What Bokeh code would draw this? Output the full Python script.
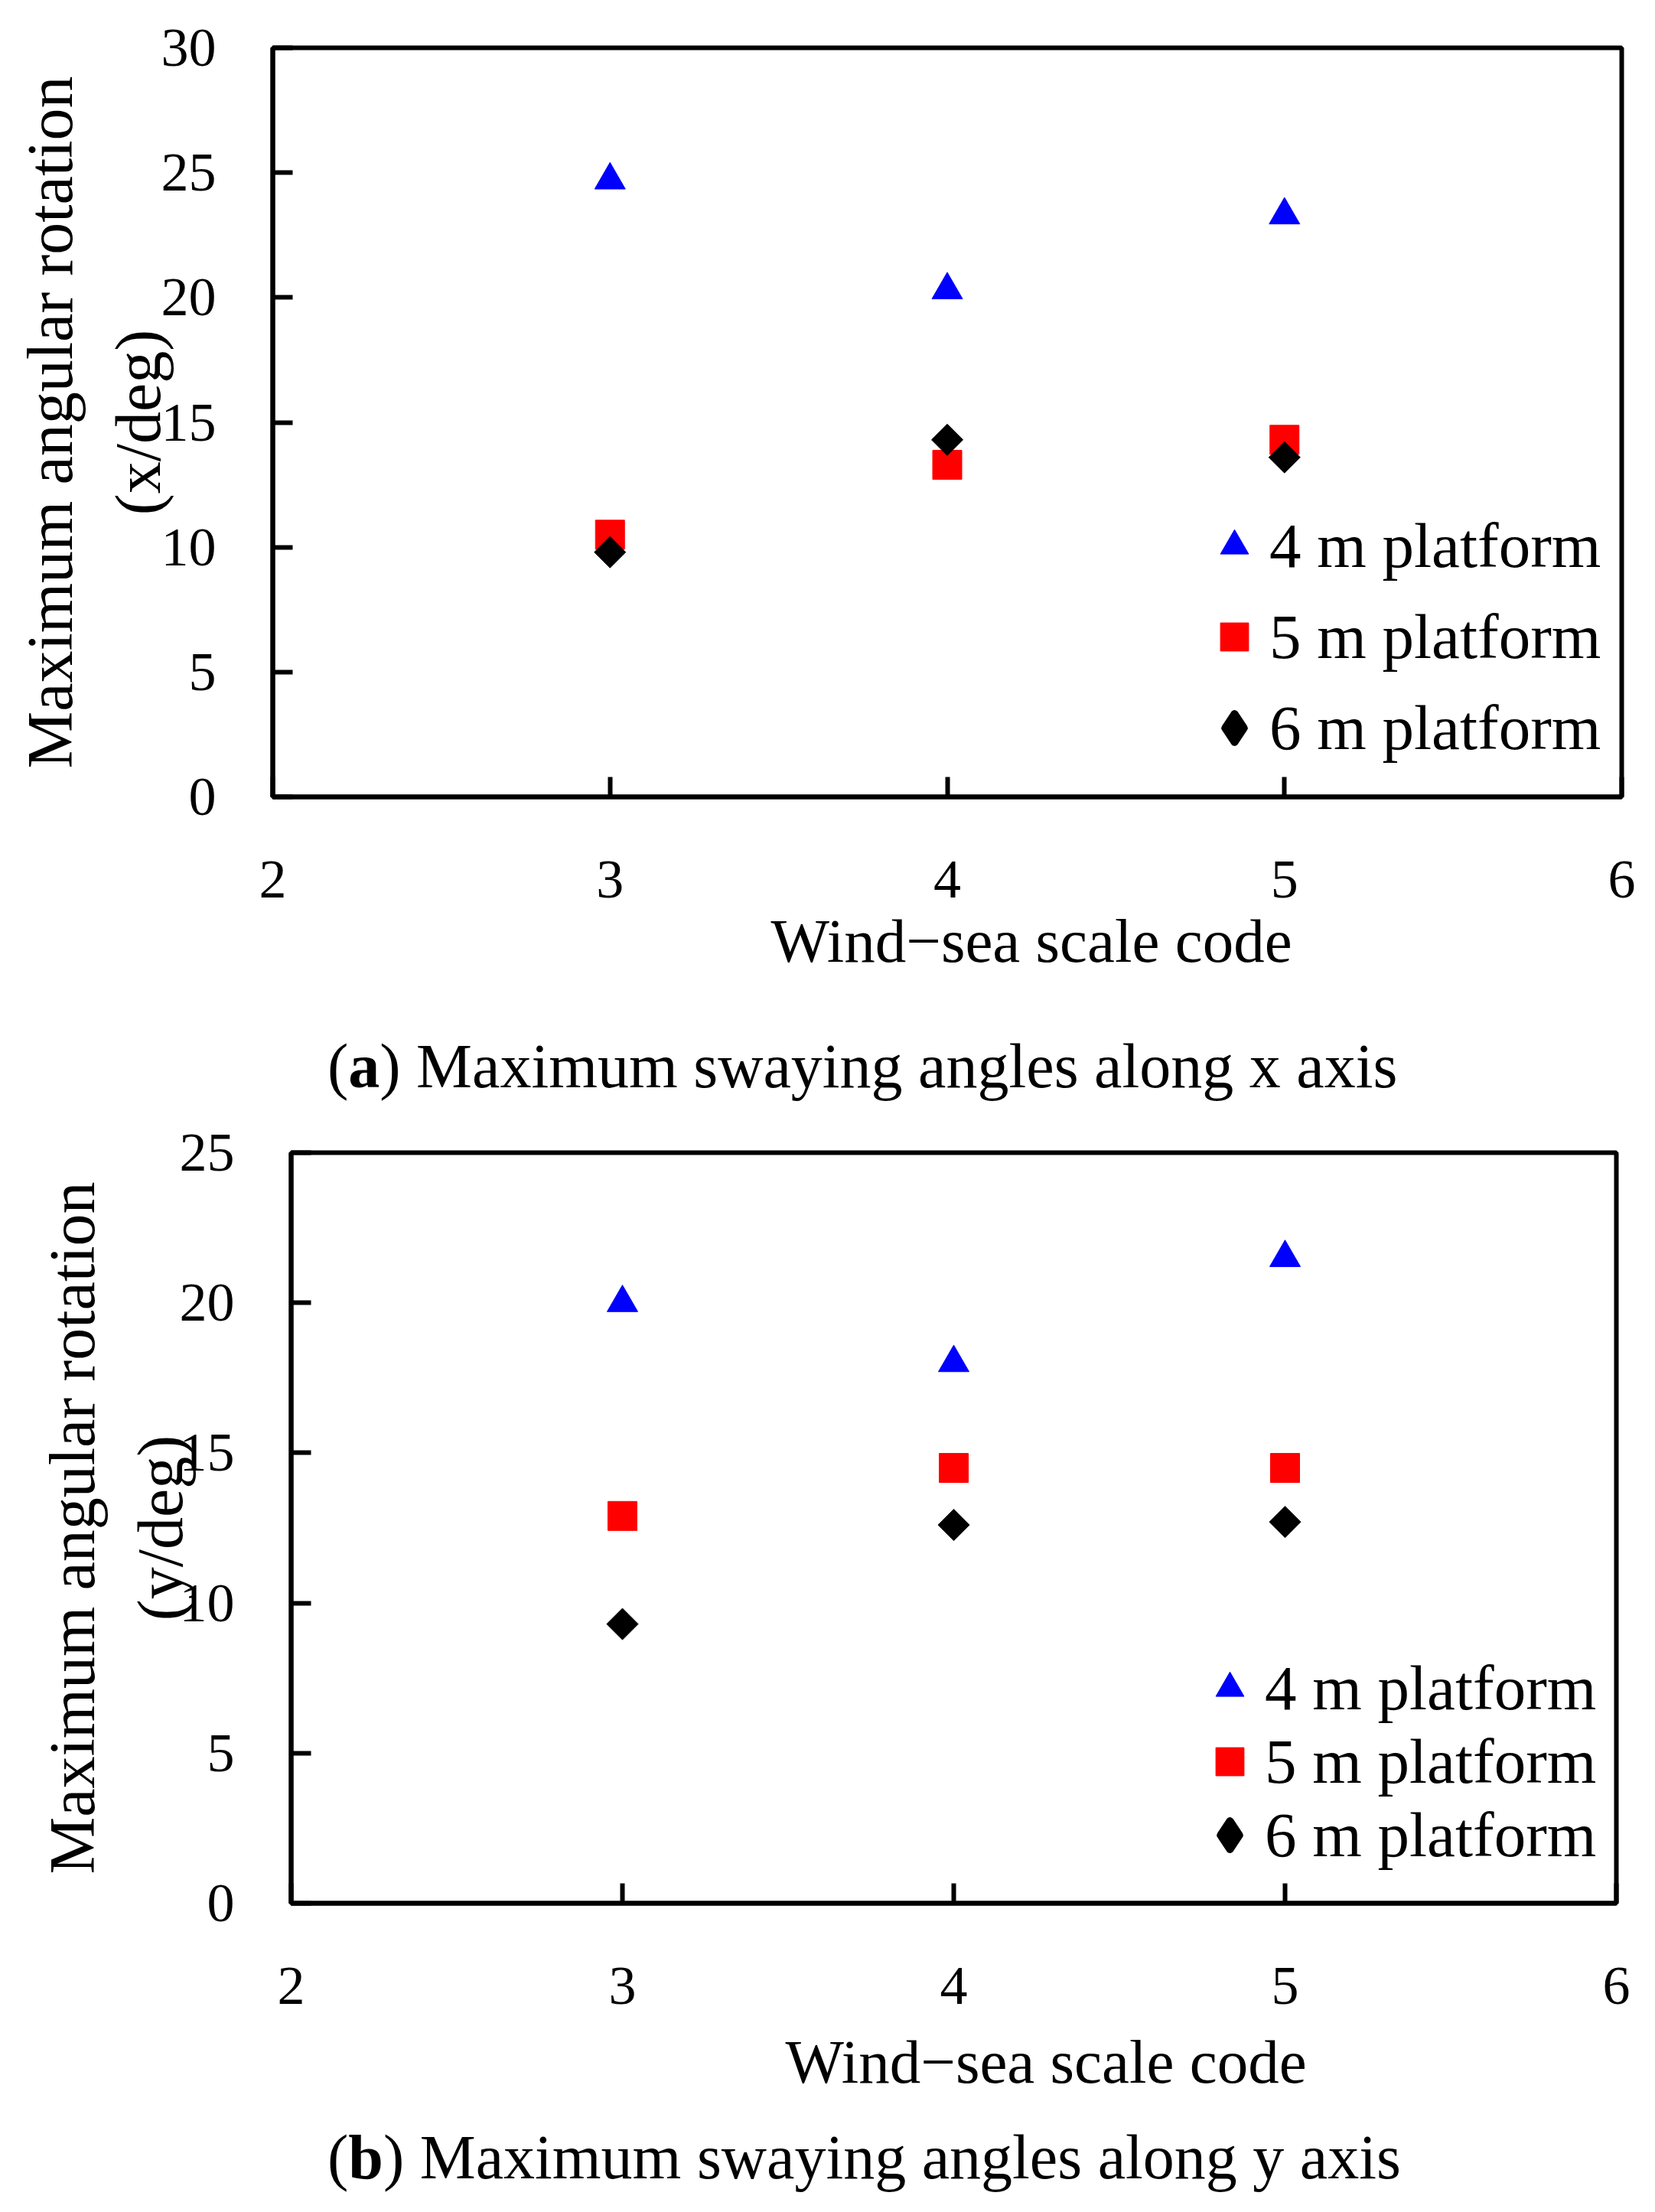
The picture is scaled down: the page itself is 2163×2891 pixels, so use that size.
from bokeh.embed import file_html
from bokeh.resources import INLINE
from bokeh.plotting import figure
from bokeh.layouts import column
from bokeh.models import Range1d, FixedTicker, Legend, LegendItem, Title, Div

# wind-sea scale code on the x axis
codes = [3, 4, 5]

# (a) maximum swaying angle along x axis, deg
x_angle_4m = [24.7, 20.3, 23.3]
x_angle_5m = [10.5, 13.3, 14.3]
x_angle_6m = [9.8, 14.3, 13.6]

# (b) maximum swaying angle along y axis, deg
y_angle_4m = [20.0, 18.0, 21.5]
y_angle_5m = [12.9, 14.5, 14.5]
y_angle_6m = [9.3, 12.6, 12.7]

x_ticks = [2, 3, 4, 5, 6]
y_ticks_a = [0, 5, 10, 15, 20, 25, 30]
y_ticks_b = [0, 5, 10, 15, 20, 25]

names = ["4 m platform", "5 m platform", "6 m platform"]

FONT = "Liberation Serif"


def panel(v4, v5, v6, yticks, unit, width, height, border, margin_left,
          legend_loc, glyph_h, spacing, ylab_standoff, xlab_offset, xlab_standoff):
    left, right, top, bottom = border
    p = figure(width=width, height=height, output_backend="svg", toolbar_location=None,
               title=None, x_range=Range1d(2, 6), y_range=Range1d(0, yticks[-1]),
               min_border_left=left, min_border_right=right,
               min_border_top=top, min_border_bottom=bottom,
               margin=(0, 0, 0, margin_left))
    p.xgrid.visible = False
    p.ygrid.visible = False
    p.outline_line_color = "black"
    p.outline_line_width = 6

    p.xaxis.ticker = FixedTicker(ticks=x_ticks)
    p.yaxis.ticker = FixedTicker(ticks=yticks)
    for ax in (p.xaxis, p.yaxis):
        ax.axis_line_width = 6
        ax.major_tick_line_width = 6
        ax.major_tick_in = 26
        ax.major_tick_out = 0
        ax.minor_tick_line_color = None
        ax.major_label_text_font = FONT
        ax.major_label_text_font_size = "72px"
        ax.major_label_text_color = "black"
    p.xaxis.major_label_standoff = 84
    p.yaxis.major_label_standoff = 74

    p.yaxis.axis_label = "Maximum angular rotation\n(" + unit + "/deg)"
    p.yaxis.axis_label_text_font = FONT
    p.yaxis.axis_label_text_font_size = "84px"
    p.yaxis.axis_label_text_font_style = "normal"
    p.yaxis.axis_label_text_color = "black"
    p.yaxis.axis_label_text_line_height = 1.23
    p.yaxis.axis_label_standoff = ylab_standoff

    p.add_layout(Title(text="Wind\u2212sea scale code", align="left", offset=xlab_offset,
                       text_font=FONT, text_font_size="81px", text_font_style="normal",
                       text_color="black", standoff=xlab_standoff), "below")

    r4 = p.scatter(codes, v4, marker="triangle", size=40, color="#0000ff")
    r5 = p.scatter(codes, v5, marker="square", size=38, color="#ff0000")
    p.scatter(codes, v6, marker="square", size=29, angle=0.785398, color="black")
    # zero-size twin so that the key shows a diamond (the key ignores angles)
    r6 = p.scatter(codes, v6, marker="diamond", size=0, color="black",
                   line_width=10, line_join="round")

    legend = Legend(items=[LegendItem(label=names[0], renderers=[r4]),
                           LegendItem(label=names[1], renderers=[r5]),
                           LegendItem(label=names[2], renderers=[r6])],
                    location=legend_loc, padding=0, margin=0, spacing=spacing,
                    glyph_width=92, glyph_height=glyph_h, label_height=glyph_h,
                    label_standoff=0, border_line_color=None,
                    background_fill_alpha=0,
                    label_text_font=FONT, label_text_font_size="83px",
                    label_text_color="black")
    p.add_layout(legend)
    return p


def caption(letter, rest, top):
    return Div(text="(<b>" + letter + "</b>) " + rest, width=1700, height=100,
               margin=(top, 0, 0, 420),
               styles={"font-family": FONT, "font-size": "82px", "line-height": "100px",
                       "color": "black", "white-space": "nowrap"})


pa = panel(x_angle_4m, x_angle_5m, x_angle_6m, y_ticks_a, "x",
           width=2147, height=1320, border=(348, 36, 54, 287), margin_left=0,
           legend_loc=(1211, 40), glyph_h=100, spacing=19,
           ylab_standoff=-19, xlab_offset=651, xlab_standoff=14)
cap_a = caption("a", "Maximum swaying angles along x axis", 16)

pb = panel(y_angle_4m, y_angle_5m, y_angle_6m, y_ticks_b, "y",
           width=2116, height=1363, border=(348, 36, 62, 320), margin_left=24,
           legend_loc=(1181, 41), glyph_h=96, spacing=0,
           ylab_standoff=-24, xlab_offset=646, xlab_standoff=52)
cap_b = caption("b", "Maximum swaying angles along y axis", -37)

layout = column(pa, cap_a, pb, cap_b, spacing=0, margin=(8, 0, 0, 8))

open("out.html", "w").write(file_html(layout, INLINE))
